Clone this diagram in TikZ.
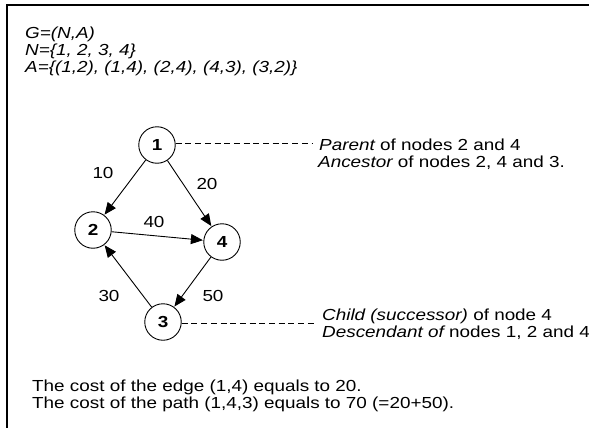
\documentclass[tikz,border=0pt]{standalone}
\usepackage{fontspec}
\setmainfont{Liberation Sans}[FakeStretch=1.18]
\usetikzlibrary{arrows.meta}
\begin{document}
\begin{tikzpicture}[x=1pt,y=-1pt,
  every node/.style={font=\fontsize{16}{19}\selectfont},
  vtx/.style={circle,draw,line width=0.9pt,minimum size=36.5pt,inner sep=0pt,font=\fontsize{16}{19}\selectfont\bfseries},
  arc/.style={line width=0.9pt,-{Triangle[length=12pt,width=10pt]},shorten >=0.5pt},
  lead/.style={line width=0.8pt,dash pattern=on 6pt off 3.7pt},
  txt/.style={anchor=base west,inner sep=0pt},
  lbl/.style={inner sep=0pt}]
\useasboundingbox (0,0) rectangle (589,428);
\fill[white] (0,0) rectangle (589,428);
\draw[line width=2pt] (7,428) -- (7,5) -- (589,5);
% definitions
\node[txt] (g) at (25,39) {\itshape G=(N,A)};
\node[txt] (n) at (25,56) {\itshape N=\{1, 2, 3, 4\}};
\node[txt] (a) at (25,73) {\itshape A=\{(1,2), (1,4), (2,4), (4,3), (3,2)\}};
% vertices
\node[vtx] (v1) at (157,145) {1};
\node[vtx] (v2) at (93,230) {2};
\node[vtx] (v4) at (222,242) {4};
\node[vtx] (v3) at (163,322) {3};
% arcs
\draw[arc] (v1) -- (v2);
\draw[arc] (v1) -- (v4);
\draw[arc] (v2) -- (v4);
\draw[arc] (v4) -- (v3);
\draw[arc] (v3) -- (v2);
\node[lbl] (l10) at (103,173) {10};
\node[lbl] (l20) at (207,184) {20};
\node[lbl] (l40) at (154,222) {40};
\node[lbl] (l30) at (109,296) {30};
\node[lbl] (l50) at (213,296) {50};
% annotations
\coordinate (c1) at (312,143.5);
\coordinate (c3) at (317,323.5);
\draw[lead] (v1.east |- c1) -- (c1);
\draw[lead] (v3.east |- c3) -- (c3);
\node[txt] (p1) at (319,150) {\itshape Parent\upshape\ of nodes 2 and 4};
\node[txt] (p2) at (318,167) {\itshape Ancestor\upshape\ of nodes 2, 4 and 3.};
\node[txt] (q1) at (322,320) {\itshape Child (successor)\upshape\ of node 4};
\node[txt] (q2) at (322,337) {\itshape Descendant of\upshape\ nodes 1, 2 and 4};
% costs
\node[txt] (k1) at (32,391) {The cost of the edge (1,4) equals to 20.};
\node[txt] (k2) at (32,408) {The cost of the path (1,4,3) equals to 70 (=20+50).};
\end{tikzpicture}
\end{document}
